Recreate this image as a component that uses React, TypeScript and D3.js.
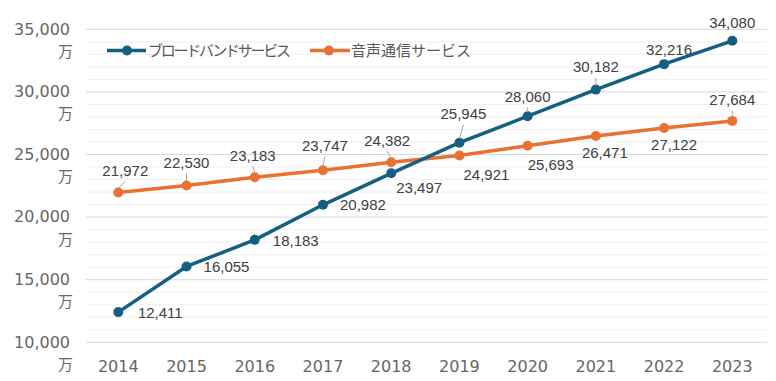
import * as d3 from "d3";

const years = ["2014", "2015", "2016", "2017", "2018", "2019", "2020", "2021", "2022", "2023"];
const broadband = [12411, 16055, 18183, 20982, 23497, 25945, 28060, 30182, 32216, 34080];
const voice = [21972, 22530, 23183, 23747, 24382, 24921, 25693, 26471, 27122, 27684];
const seriesNames = ["ブロードバンドサービス", "音声通信サービス"];
const yTicks = [10000, 15000, 20000, 25000, 30000, 35000];

// label offsets from each point: [dx, dy, leader line]
const broadbandLabelPos: [number, number, boolean][] = [
  [42, 0, false], [40, 0, false], [41, 1, false], [40, 0, false], [28, 14, false],
  [4, -29, true], [0, -20, true], [0, -23, true], [5, -15, false], [0, -18, false],
];
const voiceLabelPos: [number, number, boolean][] = [
  [7, -22, true], [0, -23, true], [-2, -22, true], [2, -25, true], [-4, -22, true],
  [27, 19, false], [23, 19, false], [9, 17, false], [10, 17, false], [0, -21, true],
];

const BLUE = "#156082";
const ORANGE = "#E97132";
const W = 776;
const H = 381;
const AXIS_TEXT = "#666666";

const x = d3.scalePoint<string>().domain(years).range([84.2, 766.4]).padding(0.5);
const y = d3.scaleLinear().domain([10000, 35000]).range([342.3, 29.3]);
const fmt = d3.format(",");

const line = d3
  .line<number>()
  .x((_, i) => x(years[i]) as number)
  .y((d) => y(d));

const Series = ({ values, color, pos }: { values: number[]; color: string; pos: [number, number, boolean][] }) => (
  <g>
    <path d={line(values) || ""} fill="none" stroke={color} strokeWidth={3.5} strokeLinejoin="round" />
    {values.map((v, i) => (
      <circle key={i} cx={x(years[i])} cy={y(v)} r={5} fill={color} />
    ))}
    {values.map((v, i) => {
      const px = x(years[i]) as number;
      const py = y(v);
      const [dx, dy, leader] = pos[i];
      const cx = px + dx;
      const cy = py + dy;
      return (
        <g key={"l" + i}>
          {leader && (
            <line x1={cx} y1={cy + 11} x2={px} y2={py - 4} stroke="#a6a6a6" strokeWidth={1} />
          )}
          <text
            x={cx}
            y={cy}
            dy="0.36em"
            textAnchor="middle"
            fontFamily="'Liberation Sans', Arial, sans-serif"
            fontSize={15}
            fill="#404040"
          >
            {fmt(v)}
          </text>
        </g>
      );
    })}
  </g>
);

export default function App() {
  const minor = d3.range(10000, 35001, 1000).filter((d) => d % 5000 !== 0);
  return (
    <div style={{ position: "absolute", left: 0, top: 0 }}>
      <svg width={W} height={H} style={{ display: "block", background: "#fff" }}>
        {/* gridlines */}
        {minor.map((d) => (
          <line key={d} x1={86} x2={767} y1={y(d)} y2={y(d)} stroke="#f0f0f0" strokeWidth={1} />
        ))}
        {yTicks.map((d) => (
          <line key={d} x1={86} x2={767} y1={y(d)} y2={y(d)} stroke="#d9d9d9" strokeWidth={1} />
        ))}

        {/* y axis labels */}
        {yTicks.map((d) => (
          <g key={"t" + d} fontFamily="'DejaVu Sans', sans-serif" fontSize={16} fill={AXIS_TEXT} textAnchor="end">
            <text x={70} y={y(d) - 0.5} dy="0.36em">
              {fmt(d)}
            </text>
            <text x={73} y={y(d) + 22} dy="0.36em" fontFamily="'Noto Sans CJK JP', sans-serif" fontSize={15}>
              万
            </text>
          </g>
        ))}

        {/* x axis labels */}
        {years.map((yr) => (
          <text
            key={yr}
            x={x(yr)}
            y={371.7}
            textAnchor="middle"
            fontFamily="'DejaVu Sans', sans-serif"
            fontSize={16}
            fill={AXIS_TEXT}
          >
            {yr}
          </text>
        ))}

        <Series values={voice} color={ORANGE} pos={voiceLabelPos} />
        <Series values={broadband} color={BLUE} pos={broadbandLabelPos} />

        {/* legend */}
        <g>
          <line x1={107} x2={146} y1={50.5} y2={50.5} stroke={BLUE} strokeWidth={3.5} />
          <circle cx={127} cy={50.5} r={5} fill={BLUE} />
          <text
            x={148}
            y={50.5}
            dy="0.36em"
            fontFamily="'Noto Sans CJK JP', sans-serif"
            fontSize={15}
            fill="#595959"
            textLength={143}
          >
            {seriesNames[0]}
          </text>
          <line x1={310} x2={350} y1={50.5} y2={50.5} stroke={ORANGE} strokeWidth={3.5} />
          <circle cx={329} cy={50.5} r={5} fill={ORANGE} />
          <text
            x={351}
            y={50.5}
            dy="0.36em"
            fontFamily="'Noto Sans CJK JP', sans-serif"
            fontSize={15}
            fill="#595959"
            textLength={120}
          >
            {seriesNames[1]}
          </text>
        </g>
      </svg>
    </div>
  );
}
